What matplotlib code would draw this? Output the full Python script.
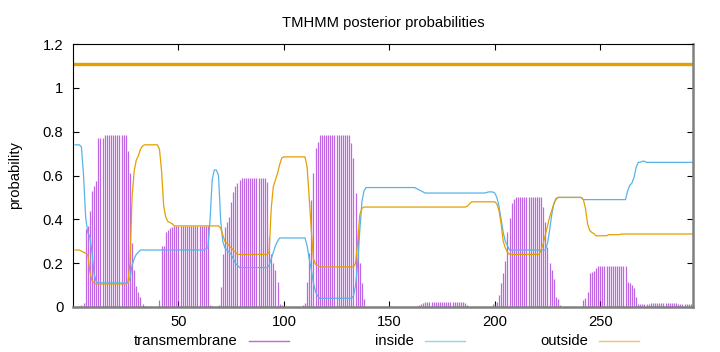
import numpy as np
import matplotlib
matplotlib.use("Agg")
import matplotlib.pyplot as plt
from matplotlib.lines import Line2D

plt.rcParams['font.family'] = ['Liberation Sans', 'DejaVu Sans']

# posterior probabilities per residue
seq_len = 294
residues = np.arange(1, seq_len + 1)

inside = (
    [.74, .74, .74, .73, .60, .41, .34, .32, .25, .15]
    + [.115, .11, .11, .11, .11, .11, .11, .11, .11, .11]
    + [.11, .11, .11, .11, .11, .11, .13, .19, .22, .24]
    + [.25, .26, .26, .26, .26, .26, .26, .26, .26, .26]
    + [.26] * 10
    + [.26] * 10
    + [.26, .26, .265, .27, .40, .58, .625, .625, .60, .40]
    + [.30, .27, .26, .25, .24, .22, .20, .19, .18, .18]
    + [.18] * 10
    + [.18, .18, .19, .22, .25, .28, .30, .315, .315, .315]
    + [.315] * 10
    + [.28, .22, .17, .11, .07, .05, .04, .04, .04, .04]
    + [.04] * 10
    + [.04, .04, .05, .10, .20, .35, .48, .53, .545, .545]
    + [.545] * 10
    + [.545] * 10
    + [.545, .545, .54, .535, .53, .525, .52, .52, .52, .52]
    + [.52] * 10
    + [.52] * 10
    + [.52, .52, .52, .52, .52, .522, .525, .525, .525, .52]
    + [.50, .46, .40, .34, .30, .28, .26, .26, .26, .26]
    + [.26] * 10
    + [.26, .26, .26, .26, .29, .35, .42, .47, .495, .50]
    + [.50] * 10
    + [.50, .49, .49, .49, .49, .49, .49, .49, .49, .49]
    + [.49] * 10
    + [.49, .49, .53, .555, .565, .59, .635, .66, .66, .665]
    + [.665, .66, .66, .66, .66, .66, .66, .66, .66, .66]
    + [.66] * 10
    + [.66, .66, .66, .66]
)

outside = (
    [.26, .26, .26, .255, .25, .245, .24, .16, .12, .11]
    + [.105] * 10
    + [.105, .105, .105, .105, .105, .11, .20, .50, .62, .67]
    + [.69, .72, .735, .74, .74, .74, .74, .74, .74, .74]
    + [.72, .62, .46, .41, .39, .385, .38, .37, .37, .37]
    + [.37] * 10
    + [.37, .37, .37, .37, .37, .37, .37, .37, .37, .36]
    + [.33, .30, .29, .28, .27, .26, .25, .24, .24, .24]
    + [.24] * 10
    + [.24, .24, .25, .45, .55, .58, .61, .65, .68, .685]
    + [.685] * 10
    + [.64, .50, .35, .22, .195, .19, .183, .183, .183, .183]
    + [.183] * 10
    + [.183, .183, .183, .20, .30, .42, .45, .456, .456, .456]
    + [.456] * 10
    + [.456] * 10
    + [.456] * 10
    + [.456] * 10
    + [.456, .456, .456, .456, .456, .456, .46, .47, .48, .48]
    + [.48] * 10
    + [.47, .44, .38, .30, .27, .25, .24, .24, .24, .24]
    + [.24] * 10
    + [.24, .26, .29, .33, .37, .41, .44, .47, .49, .50]
    + [.50] * 10
    + [.50, .49, .45, .38, .35, .34, .335, .325, .325, .325]
    + [.325, .325, .325, .33, .33, .33, .33, .33, .33, .333]
    + [.333] * 10
    + [.333] * 10
    + [.333] * 10
    + [.333, .333, .333, .333]
)

transmembrane = (
    [0, 0, .005, .01, .02, .355, .37, .44, .53, .55]
    + [.575, .77, .77, .77, .785, .785, .785, .785, .785, .785]
    + [.785, .785, .785, .785, .785, .71, .61, .29, .17, .095]
    + [.07, .045, .015, .005, 0, 0, 0, 0, 0, 0]
    + [.03, .28, .28, .34, .35, .36, .365, .37, .37, .37]
    + [.37] * 10
    + [.37, .37, .37, .37, .01, .005, 0, 0, .01, .09]
    + [.24, .365, .39, .41, .48, .525, .55, .565, .58, .59]
    + [.59] * 10
    + [.59, .57, .32, .24, .20, .17, .115, .015, .01, 0]
    + [0, 0, 0, 0, 0, 0, 0, 0, .01, .02]
    + [.115, .245, .49, .61, .725, .755, .785, .785, .785, .785]
    + [.785] * 10
    + [.785, .75, .68, .52, .35, .20, .11, .035, 0, 0]
    + [0] * 10
    + [0] * 10
    + [0, 0, .005, .01, .015, .02, .025, .025, .025, .025]
    + [.025] * 10
    + [.025, .025, .025, .025, .025, .02, .01, 0, 0, 0]
    + [0, 0, 0, 0, 0, 0, 0, 0, .015, .02]
    + [.025, .055, .11, .155, .21, .34, .405, .475, .495, .50]
    + [.50] * 10
    + [.50, .50, .455, .39, .275, .20, .17, .13, .045, .035]
    + [.01, 0, 0, 0, 0, 0, 0, 0, 0, 0]
    + [0, .03, .04, .07, .155, .16, .165, .18, .187, .187]
    + [.187] * 10
    + [.187, .187, .113, .11, .10, .085, .045, .012, .012, .012]
    + [.012, .012, .012, .018, .018, .018, .018, .018, .018, .018]
    + [.018, .018, .018, .018, .018, .018, .012, .012, .012, .012]
    + [.012, .012, .012, .012]
)

# predicted topology drawn above the curves
topology_level = 1.11

tm_color = '#9400d3'
in_color = '#56b4e9'
out_color = '#e69f00'

fig = plt.figure(figsize=(7.2, 3.52), dpi=100)
ax = fig.add_axes([73 / 720, 1 - 307 / 352, 620 / 720, 263 / 352])

# transmembrane as impulses, inside / outside as lines
ax.vlines(residues, 0, transmembrane, color=tm_color, lw=0.9, alpha=0.6)
ax.plot(residues, inside, color=in_color, lw=0.9)
ax.plot(residues, outside, color=out_color, lw=0.9)
ax.axhline(topology_level, color=out_color, lw=2.4)

ax.set_xlim(0, seq_len)
ax.set_ylim(0, 1.2)
ax.set_xticks([50, 100, 150, 200, 250])
ax.set_yticks([0, 0.2, 0.4, 0.6, 0.8, 1.0, 1.2])
ax.set_yticklabels(['0', '0.2', '0.4', '0.6', '0.8', '1', '1.2'])
ax.tick_params(direction='in', top=True, right=True, length=4, labelsize=10.6, colors='#000000')
ax.tick_params(axis='y', pad=7)
ax.tick_params(axis='x', pad=6)

for side in ['top', 'left']:
    ax.spines[side].set_color('black')
    ax.spines[side].set_linewidth(0.8)
for side in ['bottom', 'right']:
    ax.spines[side].set_color('#808080')
    ax.spines[side].set_linewidth(1.8)

ax.set_title('TMHMM posterior probabilities', fontsize=10.6, pad=12)
ax.set_ylabel('probability', fontsize=10.6)
ax.yaxis.set_label_coords(-0.082, 0.5)

# key below the plot, text before the sample like gnuplot
legend_y = 1 - 341 / 352
for label, color, x_text in [('transmembrane', tm_color, 238),
                             ('inside', in_color, 414),
                             ('outside', out_color, 588)]:
    fig.text(x_text / 720, legend_y, label, ha='right', va='center', fontsize=10.6)
    fig.add_artist(Line2D([(x_text + 11) / 720, (x_text + 51) / 720], [legend_y, legend_y],
                          color=color, lw=1.0, alpha=0.6, transform=fig.transFigure))

fig.savefig('out.png', dpi=100)
